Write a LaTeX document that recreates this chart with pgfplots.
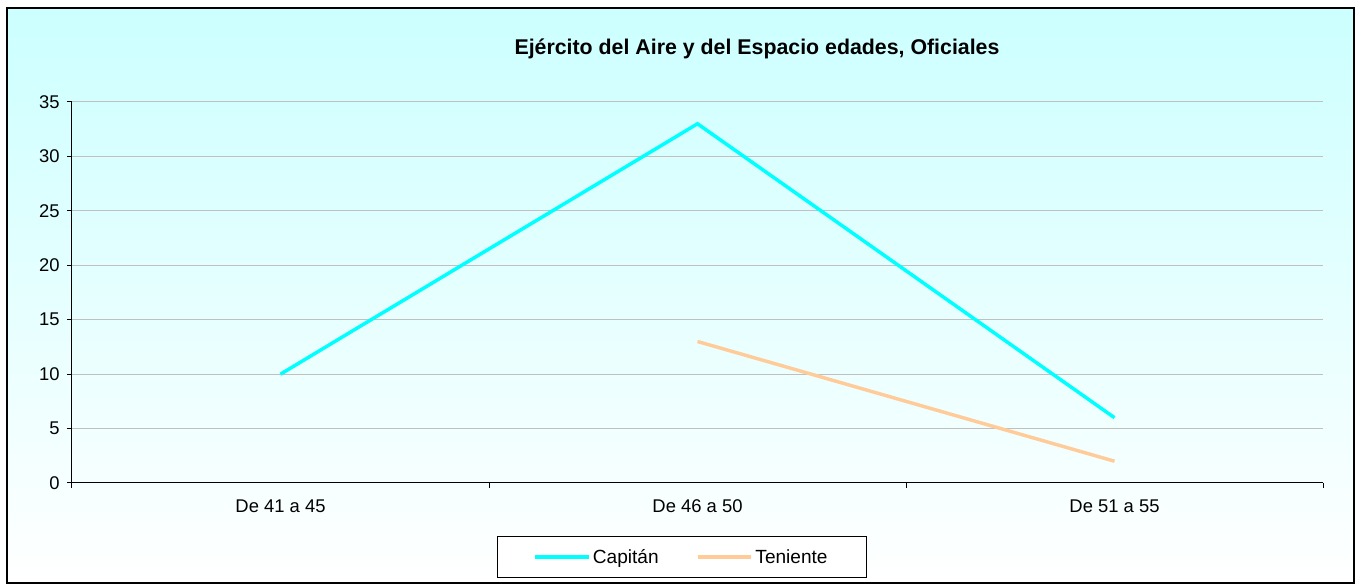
\documentclass[border=0pt]{standalone}
\usepackage{pgfplots}
\pgfplotsset{compat=1.18}
\usepackage{fontspec}
\setmainfont{Liberation Sans}
\definecolor{capcol}{HTML}{00FFFF}
\definecolor{tencol}{HTML}{FFCC99}
\definecolor{bgtop}{HTML}{CCFFFF}
\definecolor{gridc}{HTML}{C0C0C0}
\begin{document}
\begin{tikzpicture}
\begin{scope}[x=0.75pt,y=-0.75pt,shift={(-72,-483)}]
  \useasboundingbox (0,0) rectangle (1360,585);
  \fill[white] (0,0) rectangle (1360,585);
  \shade[top color=bgtop, bottom color=white] (7,8) rectangle (1354,583);
  \draw[black, line width=1.5pt] (7,8) rectangle (1354,583);
  \node[font=\bfseries\fontsize{16}{19}\selectfont] at (757,49) {Ejército del Aire y del Espacio edades, Oficiales};
\end{scope}
\begin{axis}[
  at={(0pt,0pt)}, anchor=south west,
  scale only axis, width=938.25pt, height=285.75pt,
  xmin=-0.5, xmax=2.5, ymin=0, ymax=35,
  axis lines=left, axis line style={-, black, line width=0.75pt},
  ytick={0,5,...,35},
  ymajorgrids, grid style={gridc, line width=0.75pt},
  tick align=outside, major tick length=3.75pt,
  tick style={black, line width=0.75pt},
  xtick={-0.5,0.5,1.5,2.5}, xticklabels={},
  extra x ticks={0,1,2},
  extra x tick labels={De 41 a 45, De 46 a 50, De 51 a 55},
  extra x tick style={major tick length=0pt, grid=none},
  /pgf/number format/assume math mode=true,
  tick label style={font=\fontsize{13.8}{16}\selectfont},
  xticklabel style={yshift=-9pt},
  yticklabel style={xshift=-2pt},
  legend style={at={(0.3397,-0.139)}, anchor=north west, draw=black, line width=0.75pt, fill=white,
    font=\fontsize{14.3}{17}\selectfont, inner xsep=27pt, inner ysep=7.5pt},
  legend columns=2,
  legend cell align=left,
  /tikz/every even column/.append style={column sep=26pt},
  legend image code/.code={\draw[#1] (0pt,0pt)--(40pt,0pt);},
]
\addplot[capcol, line width=2.6pt] coordinates {(0,10) (1,33) (2,6)};
\addlegendentry{Capitán}
\addplot[tencol, line width=2.6pt] coordinates {(1,13) (2,2)};
\addlegendentry{Teniente}
\end{axis}
\end{tikzpicture}
\end{document}
